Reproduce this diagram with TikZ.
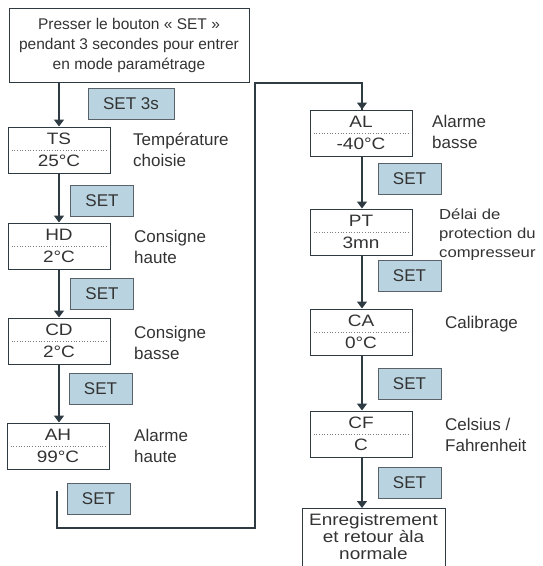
\documentclass[tikz,border=0pt]{standalone}
\usepackage{fontspec}
\setmainfont{Liberation Sans}
\newfontfamily\widefont[FakeStretch=1.15]{Liberation Sans}
\usetikzlibrary{arrows.meta}
\definecolor{ink}{HTML}{2E3B42}
\definecolor{txt}{HTML}{333333}
\definecolor{setfill}{HTML}{B9D4E0}
\tikzset{
  x=1pt, y=-1pt,
  conn/.style={draw=ink, line width=1.4pt, -{Triangle[width=10pt,length=7pt]}},
  loopline/.style={draw=ink, line width=1.4pt},
  codebox/.style={draw=ink, line width=1pt, fill=white, minimum width=102pt, minimum height=46pt, inner sep=0pt},
  codetxt/.style={text=txt, font=\widefont\fontsize{16.5}{18}\selectfont, inner sep=0pt},
  dotline/.style={draw=gray, dotted, line width=0.7pt},
  setbox/.style={draw=ink!80, line width=1pt, fill=setfill, minimum width=63pt, minimum height=31pt, inner sep=0pt, text=txt, font=\fontsize{17}{20}\selectfont},
  lbl/.style={anchor=west, align=left, text=txt, inner sep=0pt, font=\fontsize{17}{21}\selectfont},
  toptxt/.style={draw=ink, line width=1pt, minimum width=240pt, minimum height=74pt, align=center, text=txt, inner sep=0pt, font=\fontsize{15.5}{20}\selectfont},
}
\newcommand{\codenode}[4]{%
  \node[codebox] (#1) at #2 {};
  \draw[dotline] ([xshift=4pt]#1.west) -- ([xshift=-4pt]#1.east);
  \node[codetxt] at ([yshift=11pt]#1.center) {#3};
  \node[codetxt] at ([yshift=-11pt]#1.center) {#4};
}
\begin{document}
\begin{tikzpicture}
\useasboundingbox (0,0) rectangle (543,566);
% top box
\node[toptxt] (start) at (129,45) {Presser le bouton « SET »\\pendant 3 secondes pour entrer\\en mode paramétrage};
% left column
\codenode{ts}{(59,150)}{TS}{25°C}
\codenode{hd}{(59,246)}{HD}{2°C}
\codenode{cd}{(59,341)}{CD}{2°C}
\codenode{ah}{(58,446)}{AH}{99°C}
% right column
\codenode{al}{(361,133)}{AL}{-40°C}
\codenode{pt}{(361,232)}{PT}{3mn}
\codenode{ca}{(361,332)}{CA}{0°C}
\codenode{cf}{(361,434)}{CF}{C}
% final box
\node[draw=ink, line width=1pt, fill=white, minimum width=143pt, minimum height=70pt, anchor=north, inner sep=0pt] (fin) at (373.5,508) {};
\node[align=center, text=txt, inner sep=0pt, font=\widefont\fontsize{16.5}{17}\selectfont] (fintxt) at (373.5,537) {Enregistrement\\et retour àla\\normale};
% SET boxes
\node[setbox, minimum width=86pt] (s0) at (131,103.5) {SET 3s};
\node[setbox] (s1) at (102,201) {SET};
\node[setbox] (s2) at (102,293.5) {SET};
\node[setbox] (s3) at (100.5,389) {SET};
\node[setbox] (s4) at (98.5,498.5) {SET};
\node[setbox] (s5) at (409.5,178.5) {SET};
\node[setbox] (s6) at (409.5,275.5) {SET};
\node[setbox] (s7) at (409.5,383.5) {SET};
\node[setbox] (s8) at (409.5,482.5) {SET};
% labels
\node[lbl] (lts) at (133,150) {Température\\choisie};
\node[lbl] (lhd) at (134,247) {Consigne\\haute};
\node[lbl] (lcd) at (134,343) {Consigne\\basse};
\node[lbl] (lah) at (134,446) {Alarme\\haute};
\node[lbl] (lal) at (432,132) {Alarme\\basse};
\node[lbl, font=\widefont\fontsize{14.5}{19}\selectfont] (lpt) at (439,235) {Délai de\\protection du\\compresseur};
\node[lbl] (lca) at (445,324) {Calibrage};
\node[lbl] (lcf) at (445,435) {Celsius /\\Fahrenheit};
% connectors
\draw[conn] (start.south -| ts.north) -- (ts.north);
\draw[conn] (ts) -- (hd);
\draw[conn] (hd) -- (cd);
\draw[conn] (cd.south) -- (cd.south |- ah.north);
\coordinate (loopstart) at (57,491);
\coordinate (loopturn) at (255,83);
\draw[loopline] (loopstart) -- (57,528) -| (loopturn) -| ([xshift=1pt]al.north);
\draw[conn] (loopturn -| al.north) ++(1pt,0) -- ([xshift=1pt]al.north);
\draw[conn] ([xshift=1pt]al.south) -- ([xshift=1pt]pt.north);
\draw[conn] ([xshift=1pt]pt.south) -- ([xshift=1pt]ca.north);
\draw[conn] ([xshift=1pt]ca.south) -- ([xshift=1pt]cf.north);
\draw[conn] ([xshift=1pt]cf.south) -- ([xshift=1pt]cf.south |- fin.north);
\end{tikzpicture}
\end{document}
